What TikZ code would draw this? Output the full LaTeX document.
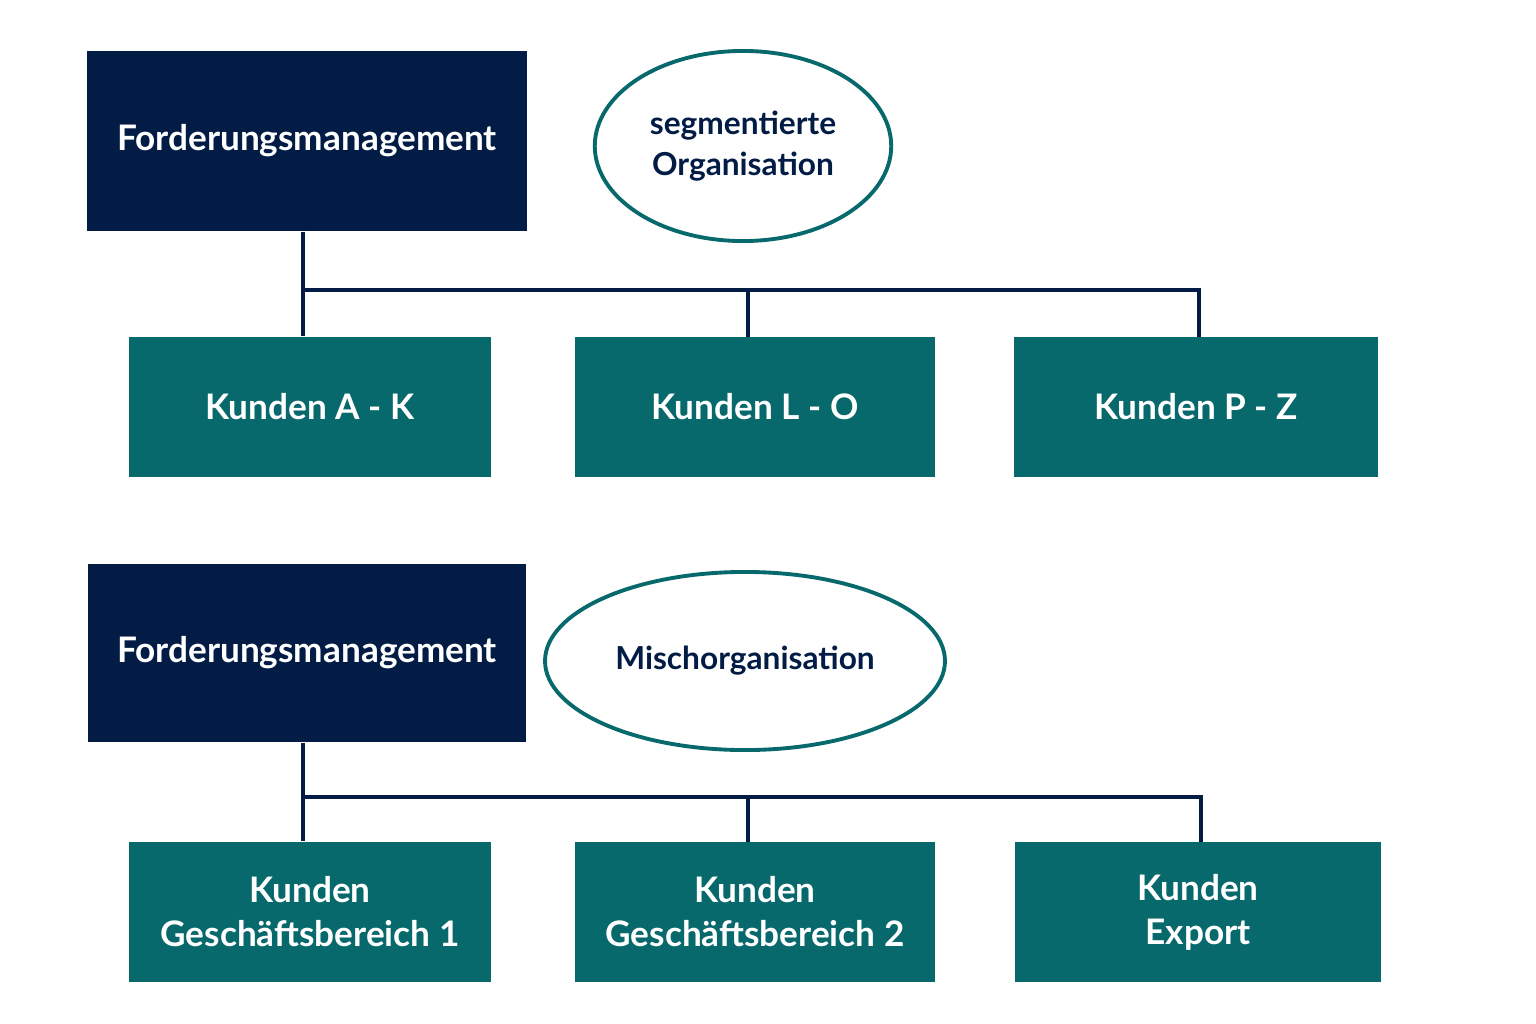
\documentclass[tikz,border=0pt]{standalone}
\usepackage{fontspec}
\setmainfont{Lato}
\usetikzlibrary{positioning,shapes.geometric}
\definecolor{navy}{HTML}{021C45}
\definecolor{teal}{HTML}{07696C}
\begin{document}
\begin{tikzpicture}[x=0.01cm,y=-0.01cm]
      \useasboundingbox[fill=white] (0,0) rectangle (1536,1024);
      \tikzset{
        headbox/.style={fill=navy,text=white,minimum width=4.4cm,minimum height=1.8cm,font=\fontsize{10}{12}\selectfont\bfseries},
        unitbox/.style={fill=teal,text=white,minimum width=3.61cm,minimum height=1.4cm,align=center,font=\fontsize{10}{12.5}\selectfont\bfseries},
        tagellipse/.style={ellipse,draw=teal,line width=1.1pt,text=navy,align=center,font=\fontsize{9}{11.5}\selectfont\bfseries},
        link/.style={draw=navy,line width=1.1pt}
      }
      % segmentierte Organisation
      \node (H1)[headbox] at (307,141) {Forderungsmanagement};
      \node (E1)[tagellipse,minimum width=2.96cm,minimum height=1.9cm] at (743,146) {segmentierte\\Organisation};
      \node (A1)[unitbox] at (310,407) {Kunden A - K};
      \node (A2)[unitbox,minimum width=3.6cm] at (755,407) {Kunden L - O};
      \node (A3)[unitbox,minimum width=3.63cm] at (1196,407) {Kunden P - Z};
      \coordinate (J1) at (303,290);
      \path[link] (J1 |- H1.south) -- (J1 |- A1.north);
      \path[link] (J1) -- (1199,290) -- (1199,337);
      \path[link] (748,290) -- (748,337);
      % Mischorganisation
      \node (H2)[headbox,minimum height=1.78cm,minimum width=4.38cm] at (307,653) {Forderungsmanagement};
      \node (E2)[tagellipse,minimum width=3.08cm,minimum height=1.78cm] at (745,661) {Mischorganisation};
      \node (B1)[unitbox] at (310,912) {Kunden\\Geschäftsbereich 1};
      \node (B2)[unitbox,minimum width=3.6cm] at (755,912) {Kunden\\Geschäftsbereich 2};
      \node (B3)[unitbox,minimum width=3.66cm] at (1198,912) {Kunden\\Export};
      \coordinate (J2) at (303,797);
      \path[link] (J2 |- H2.south) -- (J2 |- B1.north);
      \path[link] (J2) -- (1201,797) -- (1201,842);
      \path[link] (748,797) -- (748,842);
\end{tikzpicture}
\end{document}
